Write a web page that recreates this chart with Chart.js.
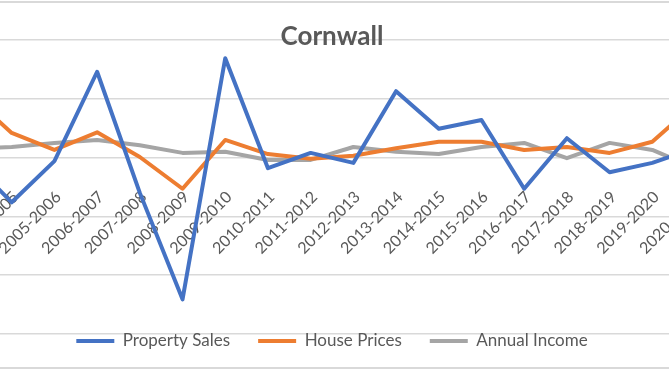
<!DOCTYPE html>
<html lang="en">
<head>
<meta charset="utf-8">
<title>Cornwall</title>
<style>
  html, body { margin: 0; padding: 0; background: #fff; overflow: hidden; }
  .frame {
    position: absolute; left: 0; top: 1px; width: 669px; height: 368px;
    box-sizing: border-box;
    border-top: 2px solid #d9d9d9; border-bottom: 2px solid #d9d9d9;
  }
  .chart { position: absolute; left: -60px; top: 0; }
</style>
</head>
<body>
<div class="frame"></div>
<div class="chart">
  <canvas id="myChart" width="789" height="389"></canvas>
</div>
<script src="https://cdn.jsdelivr.net/npm/chart.js@4.4.1/dist/chart.umd.min.js"></script>
<script>
// yearly change, the picture is cropped so first and last year are off screen
let years = ['2003-2004', '2004-2005', '2005-2006', '2006-2007', '2007-2008', '2008-2009',
  '2009-2010', '2010-2011', '2011-2012', '2012-2013', '2013-2014', '2014-2015',
  '2015-2016', '2016-2017', '2017-2018', '2018-2019', '2019-2020', '2020-2021'];

let propertySales = [-0.2, -7.6, -0.6, 14.6, -6.0, -24.1, 16.9, -1.8, 0.8, -0.9, 11.3, 4.9,
  6.4, -5.3, 3.3, -2.5, -0.9, 1.6];
let housePrices = [10.8, 4.2, 1.3, 4.3, 0.1, -5.3, 3.0, 0.6, -0.2, 0.3, 1.6, 2.7,
  2.7, 1.3, 1.8, 0.8, 2.7, 9.1];
let annualIncome = [1.5, 1.8, 2.5, 3.0, 2.1, 0.8, 1.0, -0.4, -0.4, 1.8, 1.0, 0.6,
  1.8, 2.5, -0.1, 2.5, 1.3, -1.8];

let yMin = -30;
let yMax = 20;
let yStep = 10;

let grey = '#595959';
let font = 'Lato, "Open Sans", sans-serif';

// legend sits over the bottom of the plot like in the excel chart
let legendUp = {
  id: 'legendUp',
  afterLayout(chart) {
    let lg = chart.legend;
    let h = lg.height;
    let size = lg.options.labels.font.size;
    lg.top = chart.chartArea.bottom + 7 - lg.options.labels.padding - size / 2;
    lg.bottom = lg.top + h;
  }
};

function line(label, data, color) {
  return {
    label: label,
    data: data,
    borderColor: color,
    backgroundColor: color,
    borderWidth: 4,
    borderCapStyle: 'round',
    borderJoinStyle: 'round',
    pointRadius: 0,
    tension: 0,
    fill: false
  };
}

let ctx = document.getElementById('myChart').getContext('2d');
let chart = new Chart(ctx, {
  type: 'line',
  data: {
    labels: years,
    datasets: [
      line('Property Sales', propertySales, '#4472c4'),
      line('House Prices', housePrices, '#ed7d31'),
      line('Annual Income', annualIncome, '#a5a5a5')
    ]
  },
  plugins: [legendUp],
  options: {
    responsive: false,
    animation: false,
    devicePixelRatio: 1,
    layout: { padding: { left: 29, right: 34, top: 0, bottom: 0 } },
    scales: {
      x: {
        position: { y: 0 },
        grid: { display: false, drawTicks: false },
        border: { display: false },
        ticks: {
          color: grey,
          font: { family: font, size: 16 },
          minRotation: 45,
          maxRotation: 45,
          autoSkip: false,
          padding: 30,
          labelOffset: 4
        },
        afterFit(scale) {
          scale.height = 0;
          scale.paddingLeft = 0;
          scale.paddingRight = 0;
        }
      },
      y: {
        min: yMin,
        max: yMax,
        grid: { color: '#d9d9d9', lineWidth: 1.5, drawTicks: false },
        border: { display: false },
        ticks: { display: false, stepSize: yStep, includeBounds: false }
      }
    },
    plugins: {
      title: {
        display: true,
        text: 'Cornwall',
        color: grey,
        font: { family: font, size: 26, weight: 'bold', lineHeight: 1.2 },
        padding: { top: 21.2, bottom: -12.4 }
      },
      legend: {
        position: 'bottom',
        labels: {
          color: grey,
          font: { family: font, size: 17 },
          usePointStyle: true,
          pointStyle: 'line',
          pointStyleWidth: 38,
          padding: 28
        }
      },
      tooltip: { enabled: false }
    }
  }
});
</script>
</body>
</html>
